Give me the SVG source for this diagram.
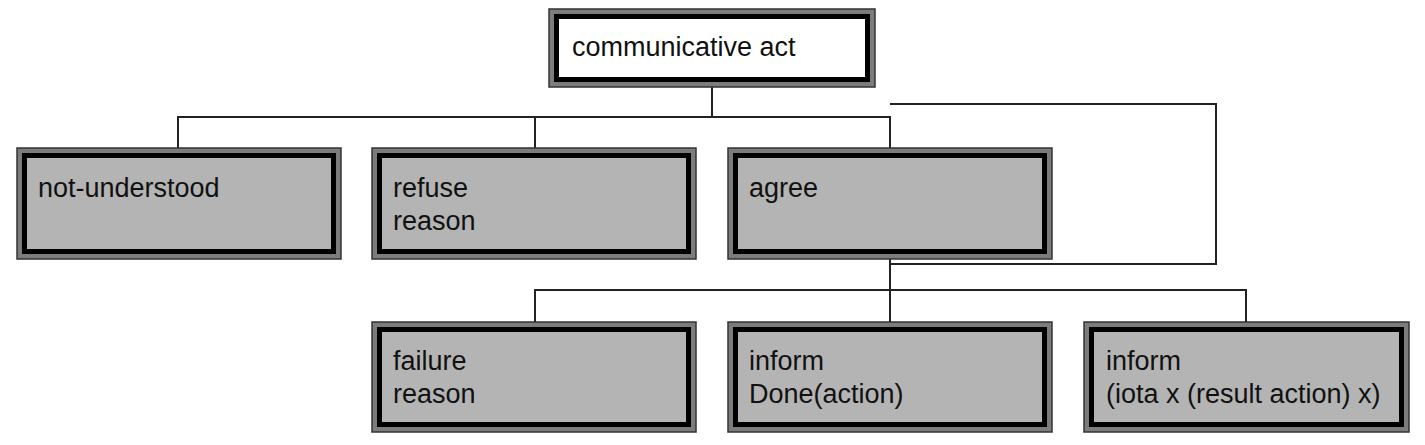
<svg xmlns="http://www.w3.org/2000/svg" width="1425" height="445" viewBox="0 0 1425 445">
<style>
.outer{fill:#7c7c7c;stroke:#333;stroke-width:1.5}
.inner{fill:#b4b4b4;stroke:#000;stroke-width:5}
.innerw{fill:#fff;stroke:#000;stroke-width:5}
.lbl{font-family:"Liberation Sans",Arial,sans-serif;font-size:27px;fill:#111}
.conn{fill:none;stroke:#222;stroke-width:2}
</style>
<rect width="1425" height="445" fill="#fff"/>
<g id="connectors">
<path class="conn" d="M712 87V117M178 148V117H890V148M535 117V148"/>
<path class="conn" d="M890 104H1216V264H890"/>
<path class="conn" d="M890 259V322M535 322V290H1246V322"/>
</g>
<g id="communicative-act">
<rect class="outer" x="549" y="9" width="326" height="78"/>
<rect class="innerw" x="556.5" y="16.5" width="311" height="63"/>
<text class="lbl" x="572" y="56">communicative act</text>
</g>
<g id="not-understood">
<rect class="outer" x="17" y="148" width="324" height="111"/>
<rect class="inner" x="24.5" y="155.5" width="309" height="96"/>
<text class="lbl" x="38" y="197">not-understood</text>
</g>
<g id="refuse">
<rect class="outer" x="372" y="148" width="324" height="111"/>
<rect class="inner" x="379.5" y="155.5" width="309" height="96"/>
<text class="lbl" x="393" y="197">refuse</text>
<text class="lbl" x="393" y="230">reason</text>
</g>
<g id="agree">
<rect class="outer" x="728" y="148" width="324" height="111"/>
<rect class="inner" x="735.5" y="155.5" width="309" height="96"/>
<text class="lbl" x="749" y="197">agree</text>
</g>
<g id="failure">
<rect class="outer" x="372" y="322" width="324" height="110"/>
<rect class="inner" x="379.5" y="329.5" width="309" height="95"/>
<text class="lbl" x="393" y="370">failure</text>
<text class="lbl" x="393" y="403">reason</text>
</g>
<g id="inform-done">
<rect class="outer" x="728" y="322" width="324" height="110"/>
<rect class="inner" x="735.5" y="329.5" width="309" height="95"/>
<text class="lbl" x="749" y="370">inform</text>
<text class="lbl" x="749" y="403">Done(action)</text>
</g>
<g id="inform-iota">
<rect class="outer" x="1084" y="322" width="325" height="110"/>
<rect class="inner" x="1091.5" y="329.5" width="310" height="95"/>
<text class="lbl" x="1106" y="370">inform</text>
<text class="lbl" x="1106" y="403">(iota x (result action) x)</text>
</g>
</svg>
